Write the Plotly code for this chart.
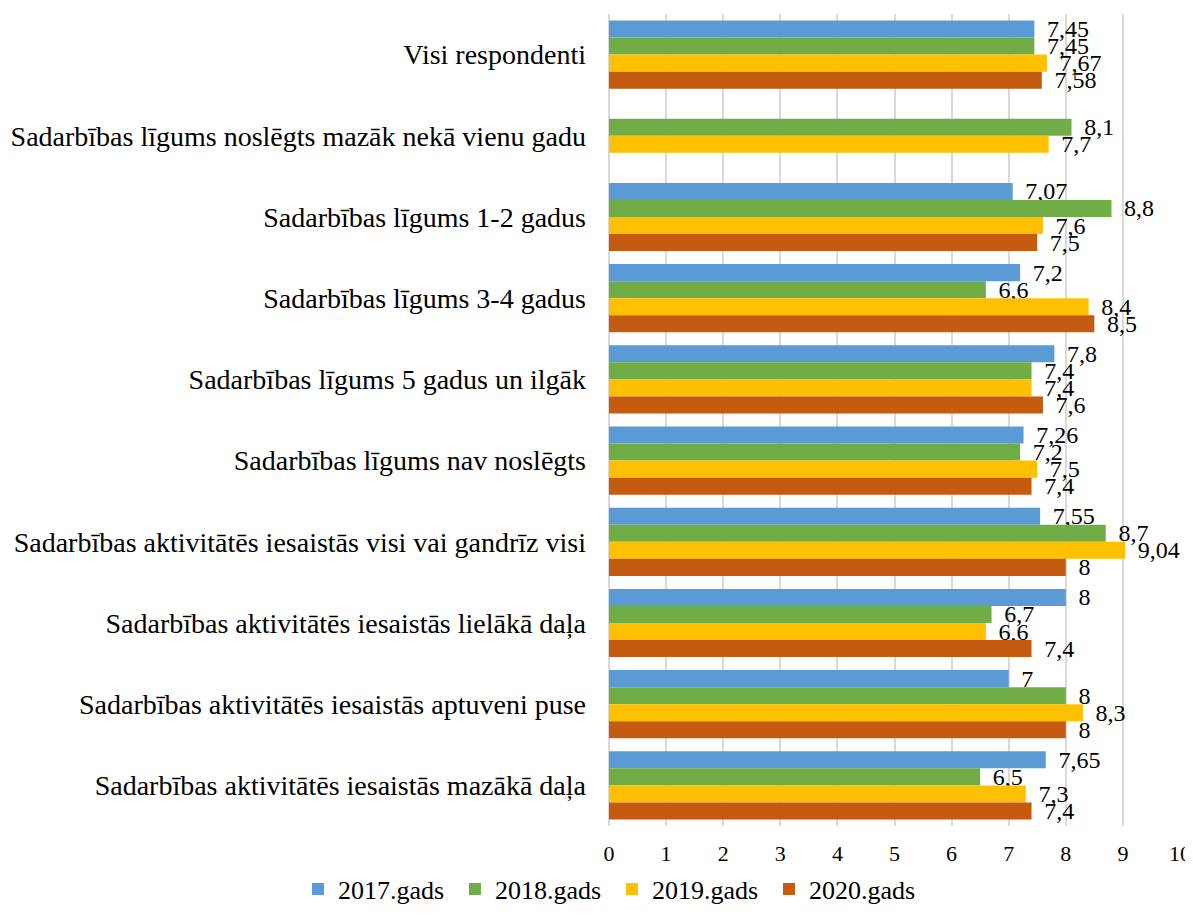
import plotly.graph_objects as go

categories = [
    "Visi respondenti",
    "Sadarbības līgums noslēgts mazāk nekā vienu gadu",
    "Sadarbības līgums 1-2 gadus",
    "Sadarbības līgums 3-4 gadus",
    "Sadarbības līgums 5 gadus un ilgāk",
    "Sadarbības līgums nav noslēgts",
    "Sadarbības aktivitātēs iesaistās visi vai gandrīz visi",
    "Sadarbības aktivitātēs iesaistās lielākā daļa",
    "Sadarbības aktivitātēs iesaistās aptuveni puse",
    "Sadarbības aktivitātēs iesaistās mazākā daļa",
]
series_names = ["2017.gads", "2018.gads", "2019.gads", "2020.gads"]
v2017 = [7.45, None, 7.07, 7.2, 7.8, 7.26, 7.55, 8, 7, 7.65]
v2018 = [7.45, 8.1, 8.8, 6.6, 7.4, 7.2, 8.7, 6.7, 8, 6.5]
v2019 = [7.67, 7.7, 7.6, 8.4, 7.4, 7.5, 9.04, 6.6, 8.3, 7.3]
v2020 = [7.58, None, 7.5, 8.5, 7.6, 7.4, 8, 7.4, 8, 7.4]
colors = ["#5B9BD5", "#70AD47", "#FFC000", "#C55A11"]
x_ticks = list(range(0, 11))

FONT = "Liberation Serif, Times New Roman, serif"


def fmt(v):
    if v is None:
        return ""
    return "\u2009\u2009" + f"{v:g}".replace(".", ",")


fig = go.Figure()
for name, vals, col in zip(series_names, [v2017, v2018, v2019, v2020], colors):
    fig.add_trace(go.Bar(
        y=categories, x=vals, name=name, orientation="h",
        marker=dict(color=col, line=dict(width=0)),
        text=[fmt(v) for v in vals], textposition="outside",
        textfont=dict(family=FONT, size=24, color="#000000"),
        constraintext="none", cliponaxis=False,
    ))

# page body has an 8px default margin: size the figure so the page does not scroll
fig.update_layout(
    width=1185, height=902,
    barmode="group", bargap=0.16, bargroupgap=0,
    plot_bgcolor="white", paper_bgcolor="white",
    margin=dict(l=601, r=13, t=6, b=84, autoexpand=False),
    font=dict(family=FONT, color="#000000"),
    legend=dict(orientation="h", x=-0.5447, xanchor="left", y=-0.1066, yanchor="bottom",
                font=dict(family=FONT, size=26), traceorder="normal",
                itemwidth=30, entrywidth=112, entrywidthmode="pixels"),
    showlegend=True,
)
fig.update_xaxes(range=[0, 10], tickvals=x_ticks, showgrid=True, gridcolor="#D9D9D9",
                 gridwidth=1.5, zeroline=True, zerolinecolor="#D9D9D9", zerolinewidth=1.5,
                 tickfont=dict(family=FONT, size=22), ticks="", showline=False,
                 automargin=False, ticklabelstandoff=12)
fig.update_yaxes(autorange="reversed", tickfont=dict(family=FONT, size=28),
                 ticks="", ticklabelstandoff=22, showline=False, automargin=False)

fig.write_html("out.html")
